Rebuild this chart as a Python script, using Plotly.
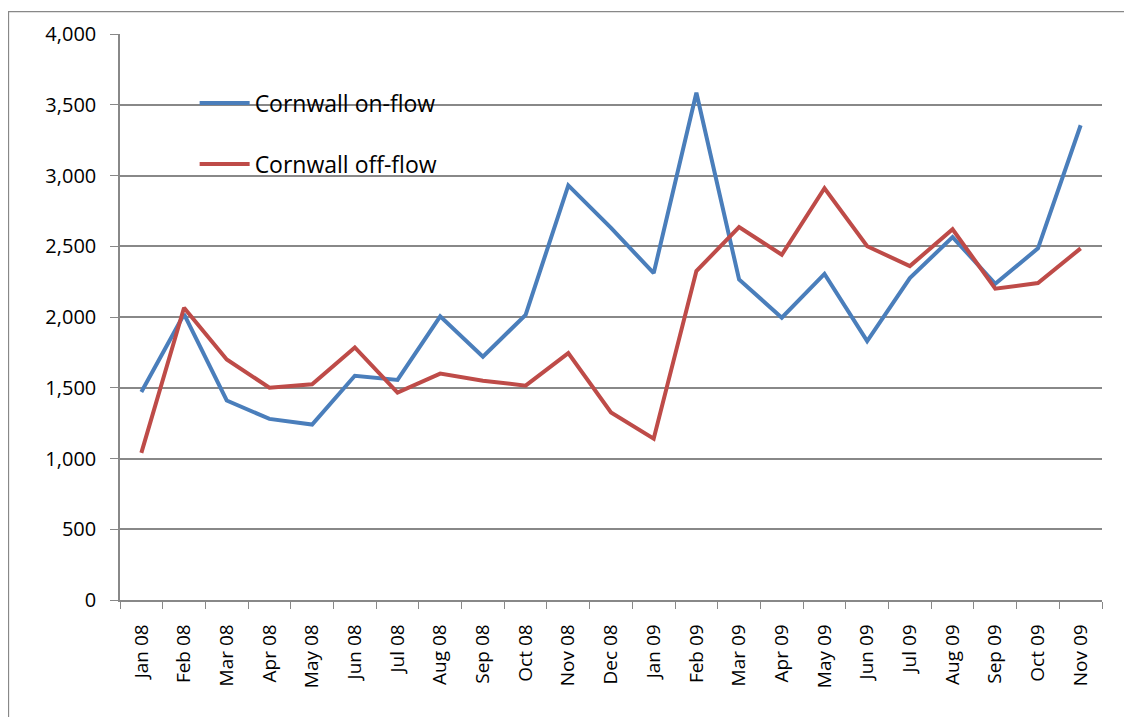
import plotly.graph_objects as go

months = ["Jan 08", "Feb 08", "Mar 08", "Apr 08", "May 08", "Jun 08", "Jul 08", "Aug 08",
          "Sep 08", "Oct 08", "Nov 08", "Dec 08", "Jan 09", "Feb 09", "Mar 09", "Apr 09",
          "May 09", "Jun 09", "Jul 09", "Aug 09", "Sep 09", "Oct 09", "Nov 09"]

on_flow = [1470, 2020, 1410, 1280, 1240, 1585, 1555, 2005, 1720, 2015, 2930, 2630,
           2310, 3585, 2265, 1995, 2305, 1830, 2275, 2565, 2235, 2485, 3355]

off_flow = [1040, 2065, 1700, 1500, 1525, 1785, 1465, 1600, 1550, 1515, 1745, 1325,
            1140, 2325, 2635, 2440, 2910, 2500, 2360, 2620, 2200, 2240, 2485]

y_ticks = [0, 500, 1000, 1500, 2000, 2500, 3000, 3500, 4000]

FONT = "Open Sans"
GRID = "#888888"

fig = go.Figure()
fig.add_trace(go.Scatter(x=months, y=on_flow, mode="lines", name="Cornwall on-flow",
                         legendgroup="a",
                         line=dict(color="#4A7EBB", width=4)))
fig.add_trace(go.Scatter(x=months, y=off_flow, mode="lines", name="Cornwall off-flow",
                         legendgroup="b",
                         line=dict(color="#BE4B48", width=4)))

fig.update_layout(
    width=1132, height=717,
    margin=dict(l=112, r=38, t=23, b=125),
    paper_bgcolor="white", plot_bgcolor="white",
    font=dict(family=FONT, size=19, color="black"),
    showlegend=True,
    legend=dict(x=0.076, y=0.916, xanchor="left", yanchor="top",
                bgcolor="rgba(0,0,0,0)", font=dict(family=FONT, size=23, color="black"),
                traceorder="grouped", tracegroupgap=28, itemwidth=50),
    xaxis=dict(type="category", tickson="boundaries", ticks="outside", ticklen=7,
               tickcolor=GRID, showline=True, linecolor=GRID, linewidth=1.5,
               showgrid=False, tickangle=-90, range=[-0.5, len(months) - 0.5],
               ticklabelstandoff=15,
               tickfont=dict(family=FONT, size=19)),
    yaxis=dict(range=[0, 4000], tickvals=y_ticks, tickformat=",", ticks="outside",
               ticklen=8, tickcolor=GRID, showline=True, linecolor=GRID, linewidth=1.5,
               showgrid=True, gridcolor=GRID, gridwidth=1.5, zeroline=False,
               ticklabelstandoff=10, tickfont=dict(family=FONT, size=20)),
    shapes=[
        dict(type="rect", xref="paper", yref="paper", x0=0.002, x1=0.39, y0=0.72, y1=0.905,
             fillcolor="white", line=dict(width=0), layer="between"),
        dict(type="rect", xref="paper", yref="paper", x0=-0.1135, x1=1.06, y0=-0.25, y1=1.0395,
             fillcolor="rgba(0,0,0,0)", line=dict(color=GRID, width=1.2), layer="above"),
    ],
)

fig.write_html("out.html")
